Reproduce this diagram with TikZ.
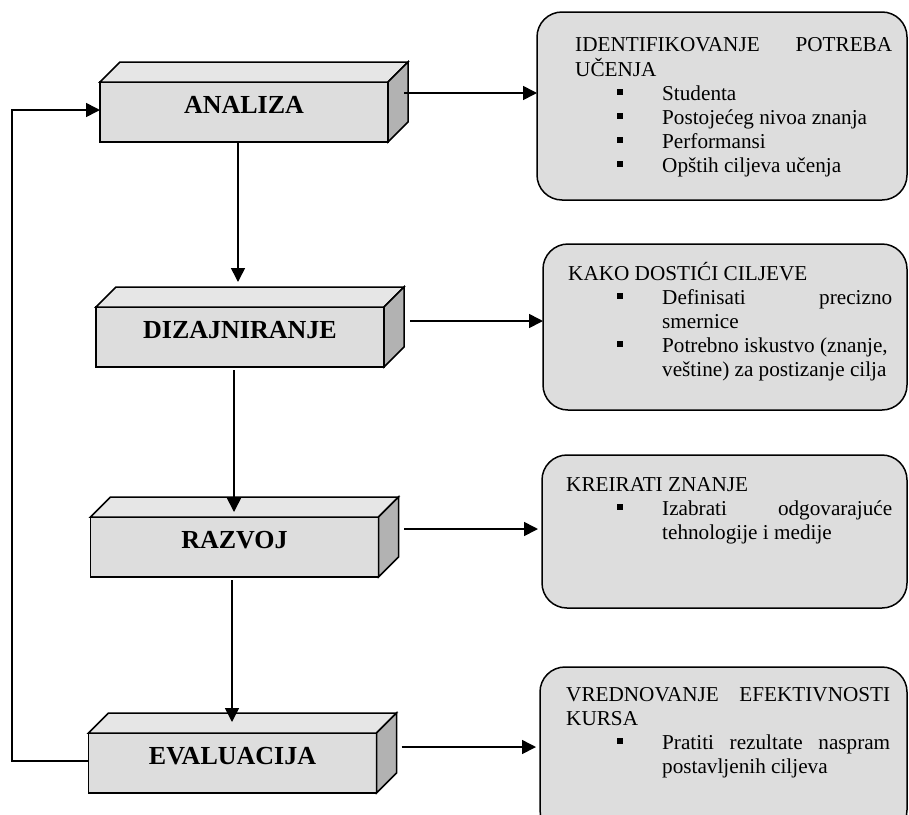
\documentclass[tikz,border=0pt]{standalone}
\usepackage{fontspec}
\setmainfont{Liberation Serif}
\usetikzlibrary{calc,arrows.meta}

\definecolor{facegray}{RGB}{221,221,221}
\definecolor{topgray}{RGB}{230,230,230}
\definecolor{sidegray}{RGB}{178,178,178}
\definecolor{notegray}{RGB}{221,221,221}

% bullet item: square marker, then the item text
\newcommand\sqitem[2]{\makebox[#1][r]{\rule[5pt]{6pt}{6pt}\hspace{39pt}}#2}

% top and side faces of a stage block
\newcommand\blockfaces[1]{%
  \draw[blockline, fill=topgray] (#1.north west) -- ++(20pt,20pt)
     -- ($(#1.north east)+(20pt,20pt)$) -- (#1.north east) -- cycle;
  \draw[blockline, fill=sidegray] (#1.north east) -- ++(20pt,20pt)
     -- ($(#1.south east)+(20pt,20pt)$) -- (#1.south east) -- cycle;
}

\tikzset{
  blockline/.style={draw=black, line width=1.5pt, line join=miter},
  stage/.style={blockline, fill=facegray, rectangle, inner sep=0pt, outer sep=0pt,
    minimum width=288pt, minimum height=60pt, text height=12pt, text depth=10pt,
    font=\fontsize{26}{30}\selectfont\bfseries},
  note/.style={draw=black, line width=1.5pt, fill=notegray, rectangle,
    rounded corners=25pt, inner sep=0pt, outer sep=0pt},
  notetext/.style={anchor=base west, inner sep=0pt,
    font=\fontsize{21.2}{24}\selectfont},
  arr/.style={line width=1.6pt, -{Triangle[length=14pt,width=14pt]}},
}

\begin{document}
\begin{tikzpicture}[x=1pt, y=-1pt]
\useasboundingbox (0,0) rectangle (909,814);
\clip (0,0) rectangle (909,814);

% stage blocks
\node[stage] (ana) at (244,112)   {ANALIZA};
\blockfaces{ana}
\node[stage] (dia) at (240,337)   {DIZAJNIRANJE};
\blockfaces{dia}
\node[stage] (raz) at (234.5,547) {RAZVOJ};
\blockfaces{raz}
\node[stage] (eva) at (232.5,763) {EVALUACIJA};
\blockfaces{eva}

% description panels
\node[note, minimum width=370pt, minimum height=188pt] (b1) at (722,106) {};
\node[note, minimum width=364pt, minimum height=166pt] (b2) at (725,327) {};
\node[note, minimum width=365pt, minimum height=153pt] (b3) at (724.5,531.5) {};
\node[note, minimum width=367pt, minimum height=168pt] (b4) at (723.5,751) {};

\node[notetext] (t1) at (575,51) {\begin{tabular}[t]{@{}l@{}}
  \makebox[317pt][s]{IDENTIFIKOVANJE POTREBA}\\
  UČENJA\\
  \sqitem{87pt}{Studenta}\\
  \sqitem{87pt}{Postojećeg nivoa znanja}\\
  \sqitem{87pt}{Performansi}\\
  \sqitem{87pt}{Opštih ciljeva učenja}
  \end{tabular}};

\node[notetext] (t2) at (568,280) {\begin{tabular}[t]{@{}l@{}}
  KAKO DOSTIĆI CILJEVE\\
  \sqitem{94pt}{\makebox[230pt][s]{Definisati precizno}}\\
  \hspace*{94pt}smernice\\
  \sqitem{94pt}{Potrebno iskustvo (znanje,}\\
  \hspace*{94pt}veštine) za postizanje cilja
  \end{tabular}};

\node[notetext] (t3) at (566,491) {\begin{tabular}[t]{@{}l@{}}
  KREIRATI ZNANJE\\
  \sqitem{96pt}{\makebox[230pt][s]{Izabrati odgovarajuće}}\\
  \hspace*{96pt}tehnologije i medije
  \end{tabular}};

\node[notetext] (t4) at (566,701) {\begin{tabular}[t]{@{}l@{}}
  \makebox[324pt][s]{VREDNOVANJE EFEKTIVNOSTI}\\
  KURSA\\
  \sqitem{96pt}{\makebox[228pt][s]{Pratiti rezultate naspram}}\\
  \hspace*{96pt}postavljenih ciljeva
  \end{tabular}};

% flow between stages
\draw[arr] ($(ana.south -| dia.north)+(-2pt,0)$) -- ($(dia.north)+(-2pt,25pt)$);
\draw[arr] ($(dia.south -| raz.north)+(-0.5pt,-3pt)$) -- ($(raz.north)+(-0.5pt,5pt)$);
\draw[arr] ($(raz.south -| eva.north)+(-0.5pt,-3pt)$) -- ($(eva.north)+(-0.5pt,11pt)$);

% stage to description
\coordinate (sa) at ($(ana.east)+(16pt,19pt)$);
\coordinate (sd) at ($(dia.east)+(26pt,16pt)$);
\coordinate (sr) at ($(raz.east)+(25.5pt,18pt)$);
\coordinate (se) at ($(eva.east)+(25pt,16pt)$);
\draw[arr] (sa) -- (sa -| b1.west);
\draw[arr] (sd) -- (sd -| b2.west);
\draw[arr, shorten >=4pt] (sr) -- (sr -| b3.west);
\draw[arr, shorten >=4pt] (se) -- (se -| b4.west);

% feedback from evaluation back to analysis
\coordinate (lx) at (12,0);
\coordinate (e0) at ($(eva.west)+(0,2pt)$);
\coordinate (a0) at ($(ana.west)+(0,2pt)$);
\draw[arr] (e0) -- (e0 -| lx) -- (a0 -| lx) -- (a0);
\end{tikzpicture}
\end{document}
